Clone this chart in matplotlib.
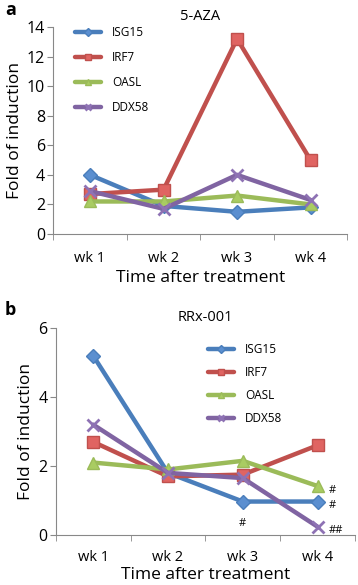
import numpy as np
import matplotlib.pyplot as plt

plt.rcParams['font.family'] = ['Open Sans', 'DejaVu Sans']

weeks = ["wk 1", "wk 2", "wk 3", "wk 4"]
genes = ["ISG15", "IRF7", "OASL", "DDX58"]

# panel a: 5-AZA
aza = {
    "ISG15": [4.0, 1.9, 1.5, 1.8],
    "IRF7": [2.7, 3.0, 13.2, 5.0],
    "OASL": [2.2, 2.2, 2.6, 2.0],
    "DDX58": [2.9, 1.7, 4.0, 2.3],
}
# panel b: RRx-001
rrx = {
    "ISG15": [5.2, 1.8, 0.97, 0.97],
    "IRF7": [2.7, 1.7, 1.75, 2.6],
    "OASL": [2.1, 1.9, 2.15, 1.42],
    "DDX58": [3.2, 1.8, 1.65, 0.24],
}
# significance marks in panel b: (gene, week index, text)
marks = [("ISG15", 2, "#"), ("OASL", 3, "#"), ("ISG15", 3, "#"), ("DDX58", 3, "##")]

colors = {"ISG15": "#4A7EBB", "IRF7": "#C0504D", "OASL": "#9BBB59", "DDX58": "#8064A2"}
faces = {"ISG15": "#5B8FD0", "IRF7": "#E06462", "OASL": "#A9CC62", "DDX58": "#8E72B4"}
markers = {"ISG15": "D", "IRF7": "s", "OASL": "^", "DDX58": "x"}
msizes = {"ISG15": 7, "IRF7": 9, "OASL": 8, "DDX58": 9}

fig = plt.figure(figsize=(3.58, 5.85), dpi=100)
ax1 = fig.add_axes([53.3/358, 1-234/585, 294/358, 207/585])
ax2 = fig.add_axes([55.7/358, 1-535/585, 299.3/358, 207/585])

x = np.arange(1, len(weeks) + 1)


def draw(ax, data, ymax, yticks, title, tpad, lpad):
    for g in genes:
        ax.plot(x, data[g], color=colors[g], lw=3.2, marker=markers[g],
                ms=msizes[g], mfc=faces[g], mec=colors[g] if markers[g] != "x" else faces[g],
                mew=1 if markers[g] != "x" else 2, label=g, solid_capstyle='round')
    ax.set_xlim(0.5, 4.5)
    ax.set_ylim(0, ymax)
    ax.set_yticks(yticks)
    ax.set_xticks(x)
    ax.set_xticklabels(weeks, fontsize=10.5)
    ax.set_xticks(np.arange(0.5, 4.6, 1), minor=True)
    ax.tick_params(axis='x', which='major', length=0, pad=tpad)
    ax.tick_params(axis='x', which='minor', length=4, color='#888888')
    ax.tick_params(axis='y', length=4, color='#888888', labelsize=11.5, pad=2)
    for s in ['top', 'right']:
        ax.spines[s].set_visible(False)
    for s in ['left', 'bottom']:
        ax.spines[s].set_color('#888888')
    ax.set_ylabel("Fold of induction", fontsize=12.5, labelpad=3)
    ax.set_xlabel("Time after treatment", fontsize=12.5, labelpad=lpad)
    ax.set_title(title, fontsize=10.5, pad=5)


draw(ax1, aza, 14, np.arange(0, 15, 2), "5-AZA", 12, 3)
draw(ax2, rrx, 6, [0, 2, 4, 6], "RRx-001", 11, 1)

leg_kw = dict(frameon=False, fontsize=8.5, handlelength=2.2,
              markerscale=0.55, handletextpad=0.9, borderpad=0)
ax1.legend(loc='upper left', bbox_to_anchor=(0.055, 1.035), labelspacing=1.02, **leg_kw)
ax2.legend(loc='upper left', bbox_to_anchor=(0.49, 0.955), labelspacing=0.85, **leg_kw)

for g, i, t in marks:
    if i == 2:
        off = (0, -16)
        ha = 'center'
    else:
        off = (8, -3)
        ha = 'left'
    ax2.annotate(t, (x[i], rrx[g][i]), xytext=off, textcoords='offset points',
                 fontsize=8, ha=ha, va='center')

fig.text(5/358, 1-10/585, "a", fontsize=13, fontweight='bold', va='center')
fig.text(5/358, 1-310/585, "b", fontsize=13, fontweight='bold', va='center')

plt.savefig("out.png", dpi=100)
